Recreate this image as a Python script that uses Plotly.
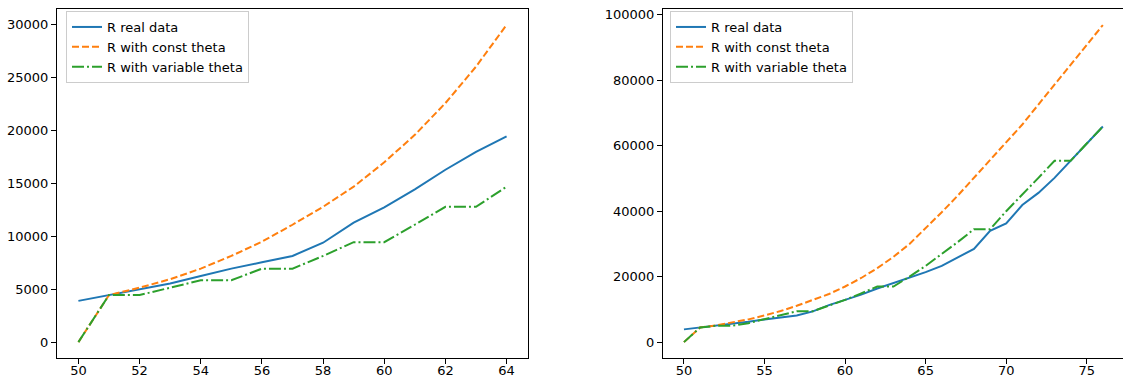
import plotly.graph_objects as go

# Left panel: days 50..64
days_left = list(range(50, 65))
real_left = [3900, 4450, 5000, 5550, 6250, 6950, 7550, 8150, 9400, 11300,
             12750, 14450, 16300, 18000, 19450]
const_left = [0, 4450, 5150, 5950, 6950, 8150, 9500, 11100, 12800, 14700,
              17000, 19600, 22600, 26050, 30000]
var_left = [0, 4450, 4450, 5150, 5850, 5850, 6950, 6950, 8150, 9450,
            9450, 11100, 12800, 12800, 14700]

# Right panel: days 50..76
days_right = list(range(50, 77))
real_right = [3900, 4450, 5000, 5550, 6250, 6950, 7550, 8150, 9400, 11300,
              12900, 14500, 16400, 18000, 19600, 21400, 23300, 25800, 28500,
              34000, 36300, 41900, 45600, 50200, 55500, 60800, 65900]
const_right = [0, 4450, 5150, 5950, 6950, 8150, 9500, 11100, 12800, 14700,
               17000, 19600, 22600, 26050, 30000, 34700, 39700, 44800, 50300,
               55600, 61000, 66500, 72600, 78700, 84800, 90900, 96900]
var_right = [0, 4450, 5000, 5000, 5800, 7000, 8200, 9450, 9450, 11200,
             12900, 14900, 17000, 17000, 20000, 23300, 26900, 30600, 34500,
             34500, 40000, 45000, 50200, 55400, 55400, 60700, 65900]

BLUE = "#1f77b4"
ORANGE = "#ff7f0e"
GREEN = "#2ca02c"
FONT = "DejaVu Sans"
W, H = 1123, 378

fig = go.Figure()


def add_panel(x, real, const, var, xa, ya, legend):
    common = dict(xaxis=xa, yaxis=ya, mode="lines", legend=legend)
    fig.add_trace(go.Scatter(x=x, y=real, name="R real data",
                             line=dict(color=BLUE, width=2), **common))
    fig.add_trace(go.Scatter(x=x, y=const, name="R with const theta",
                             line=dict(color=ORANGE, width=2, dash="7px,3px"), **common))
    fig.add_trace(go.Scatter(x=x, y=var, name="R with variable theta",
                             line=dict(color=GREEN, width=2, dash="12px,3px,2px,3px"), **common))


add_panel(days_left, real_left, const_left, var_left, "x", "y", "legend")
add_panel(days_right, real_right, const_right, var_right, "x2", "y2", "legend2")

top = 1 - 9 / H
bottom = 1 - 358 / H

axis_common = dict(
    showgrid=False, zeroline=False, showline=True, linecolor="black", linewidth=1,
    ticks="outside", ticklen=5, tickwidth=1, tickcolor="black",
    tickfont=dict(family=FONT, size=13, color="black"), tickformat="d",
    automargin=False,
)
xaxis_common = dict(axis_common, ticklabelstandoff=-5)

legend_common = dict(
    bgcolor="rgba(255,255,255,0.8)", bordercolor="#cccccc", borderwidth=1,
    font=dict(family=FONT, size=13, color="black"),
    xanchor="left", yanchor="top", tracegroupgap=0, itemwidth=30,
)

fig.update_layout(
    width=W, height=H,
    margin=dict(l=0, r=0, t=0, b=0),
    paper_bgcolor="white", plot_bgcolor="white",
    font=dict(family=FONT, size=13, color="black"),
    xaxis=dict(domain=[57 / W, 528 / W], range=[49.3, 64.7], tickvals=list(range(50, 65, 2)),
               mirror=True, anchor="y", **xaxis_common),
    yaxis=dict(domain=[bottom, top], range=[-1500, 31500], tickvals=list(range(0, 30001, 5000)),
               mirror=True, anchor="x", **axis_common),
    xaxis2=dict(domain=[663 / W, 1.0], range=[48.7, 77.25], tickvals=list(range(50, 76, 5)),
                mirror=True, anchor="y2", **xaxis_common),
    yaxis2=dict(domain=[bottom, top], range=[-4850, 101800], tickvals=list(range(0, 100001, 20000)),
                mirror=False, anchor="x2", **axis_common),
    legend=dict(x=66 / W, y=1 - 11 / H, **legend_common),
    legend2=dict(x=670 / W, y=1 - 11 / H, **legend_common),
    showlegend=True,
)

fig.write_html("out.html")
